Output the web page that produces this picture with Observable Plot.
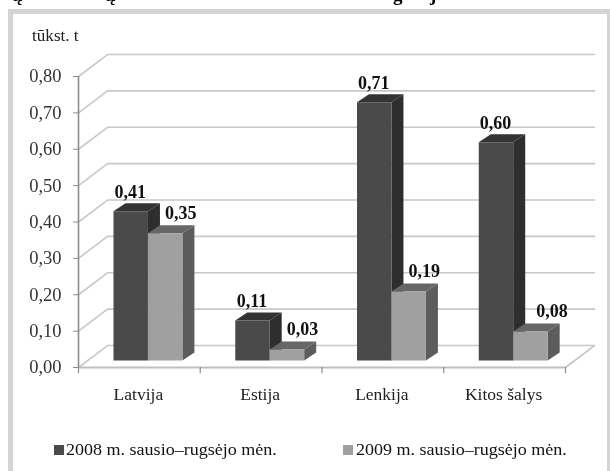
<!DOCTYPE html>
<html><head><meta charset="utf-8">
<script src="https://cdn.jsdelivr.net/npm/d3@7"></script>
<script src="https://cdn.jsdelivr.net/npm/@observablehq/plot@0.6"></script>
<style>
html,body{margin:0;padding:0;background:#fff;width:610px;height:471px;overflow:hidden}
#frame{position:absolute;left:8px;top:9px;width:594px;height:470px;border:5px solid #d4d4d4;background:#fff}
#chart{position:absolute;left:0;top:0;filter:blur(0.5px)}
#unit{position:absolute;left:32px;top:27px;font:16px "Liberation Serif",serif;transform:scaleX(1.07);transform-origin:left;color:#222;filter:blur(0.35px)}
.leg{position:absolute;top:439px;font:17.5px "Liberation Serif",serif;color:#111;white-space:nowrap;transform:scaleX(1.03);transform-origin:left;filter:blur(0.4px)}
.sw{position:absolute;top:445px;width:10px;height:10px;filter:blur(0.4px)}
.cut{position:absolute;top:-14px;font:bold 19px/18px "Liberation Serif",serif;color:#000;filter:blur(0.4px)}
</style></head><body>
<span class="cut" style="left:12px">ų</span><span class="cut" style="left:105px">ų</span><span class="cut" style="left:393px">g</span><span class="cut" style="left:430px">j</span>
<div id="frame"></div><div id="chart"></div>
<div id="unit">tūkst. t</div>
<i class="sw" style="left:54px;background:#4a4a4a"></i><div class="leg" style="left:66px">2008 m. sausio–rugsėjo mėn.</div>
<i class="sw" style="left:343px;background:#a0a0a0"></i><div class="leg" style="left:356px">2009 m. sausio–rugsėjo mėn.</div>
<script>
const categories = ["Latvija","Estija","Lenkija","Kitos šalys"];
const series2008 = [0.41,0.11,0.71,0.60];
const series2009 = [0.35,0.03,0.19,0.08];
const yTicks = [0,0.1,0.2,0.3,0.4,0.5,0.6,0.7,0.8];

// oblique projection expressed in scale units
const wallDX = 29/121.75, wallDY = 22/364;   // back wall offset
const barDX = 12/121.75, barDY = 8/364;      // bar depth
const baseDY = 7/364;                        // bar front plane offset above the floor edge
const barLeft = 0.2875, barW = 0.283;        // bar slot within a category

const poly = (pts, fill) => Plot.line([...pts, pts[0]], {x:d=>d[0], y:d=>d[1], fill, stroke:"none", curve:"linear"});

const faces = [];
categories.forEach((c,i)=>{
  [[series2008[i],0,"#4a4a4a","#2e2e2e","#333333"],[series2009[i],1,"#a0a0a0","#5c5c5c","#666666"]].forEach(([v,k,front,side,top])=>{
    const x0=i+barLeft+k*barW, x1=x0+barW, b=baseDY, t=v+baseDY;
    faces.push(poly([[x1,b],[x1+barDX,b+barDY],[x1+barDX,t+barDY],[x1,t]],side));
    faces.push(poly([[x0,t],[x1,t],[x1+barDX,t+barDY],[x0+barDX,t+barDY]],top));
    faces.push(poly([[x0,b],[x1,b],[x1,t],[x0,t]],front));
  });
});

const fmt = d => d.toFixed(2).replace(".",",");
const labels2008 = categories.map((c,i)=>({v:series2008[i], x:i+barLeft+barW*0.6-4/121.75, t:fmt(series2008[i])}));
const labels2009 = categories.map((c,i)=>({v:series2009[i], x:i+barLeft+barW*1.95+(i===3?6:0)/121.75, t:fmt(series2009[i])}));
const labelStyle = {x:"x",y:d=>d.v,text:"t",fontSize:18,fontWeight:"bold",fontFamily:"Liberation Serif",fill:"#111"};

const plot = Plot.plot({
  width:610,height:471,
  marginLeft:78,marginRight:45,marginTop:76,marginBottom:104,
  x:{type:"linear",domain:[0,4],range:[78,565],axis:null},
  y:{type:"linear",domain:[0,0.8],range:[367,76],axis:null},
  style:{background:"transparent",overflow:"visible"},
  marks:[
    Plot.line(yTicks.flatMap(v=>[{x:0,y:v,g:v},{x:wallDX,y:v+wallDY,g:v},{x:4+wallDX,y:v+wallDY,g:v}]),
      {x:"x",y:"y",z:"g",stroke:"#c8c8c8",strokeWidth:1.6}),
    Plot.line([{x:4,y:0},{x:4+wallDX,y:wallDY}],{x:"x",y:"y",stroke:"#c4c4c4",strokeWidth:1.6}),
    Plot.ruleY([0],{x1:0,x2:4,stroke:"#c0c0c0",strokeWidth:2}),
    ...faces,
    Plot.ruleX([0],{y1:0,y2:0.8,stroke:"#8c8c8c",strokeWidth:1.6}),
    Plot.axisY(yTicks,{anchor:"left",tickSize:5,tickPadding:12,stroke:"#8c8c8c",
      tickFormat:fmt,fontSize:18.5,fontFamily:"Liberation Serif",fill:"#333",label:null}),
    Plot.ruleX([0,1,2,3,4],{y1:0,y2:-0.017,stroke:"#8c8c8c",strokeWidth:1.2}),
    Plot.text(categories,{x:(d,i)=>i+0.5,y:0,text:d=>d,dy:27,dx:-1,fontSize:17.5,fontFamily:"Liberation Serif",fill:"#222"}),
    Plot.text(labels2008,{...labelStyle,dy:-26}),
    Plot.text(labels2009,{...labelStyle,dy:-27})
  ]
});
document.getElementById("chart").append(plot);
</script>
</body></html>
